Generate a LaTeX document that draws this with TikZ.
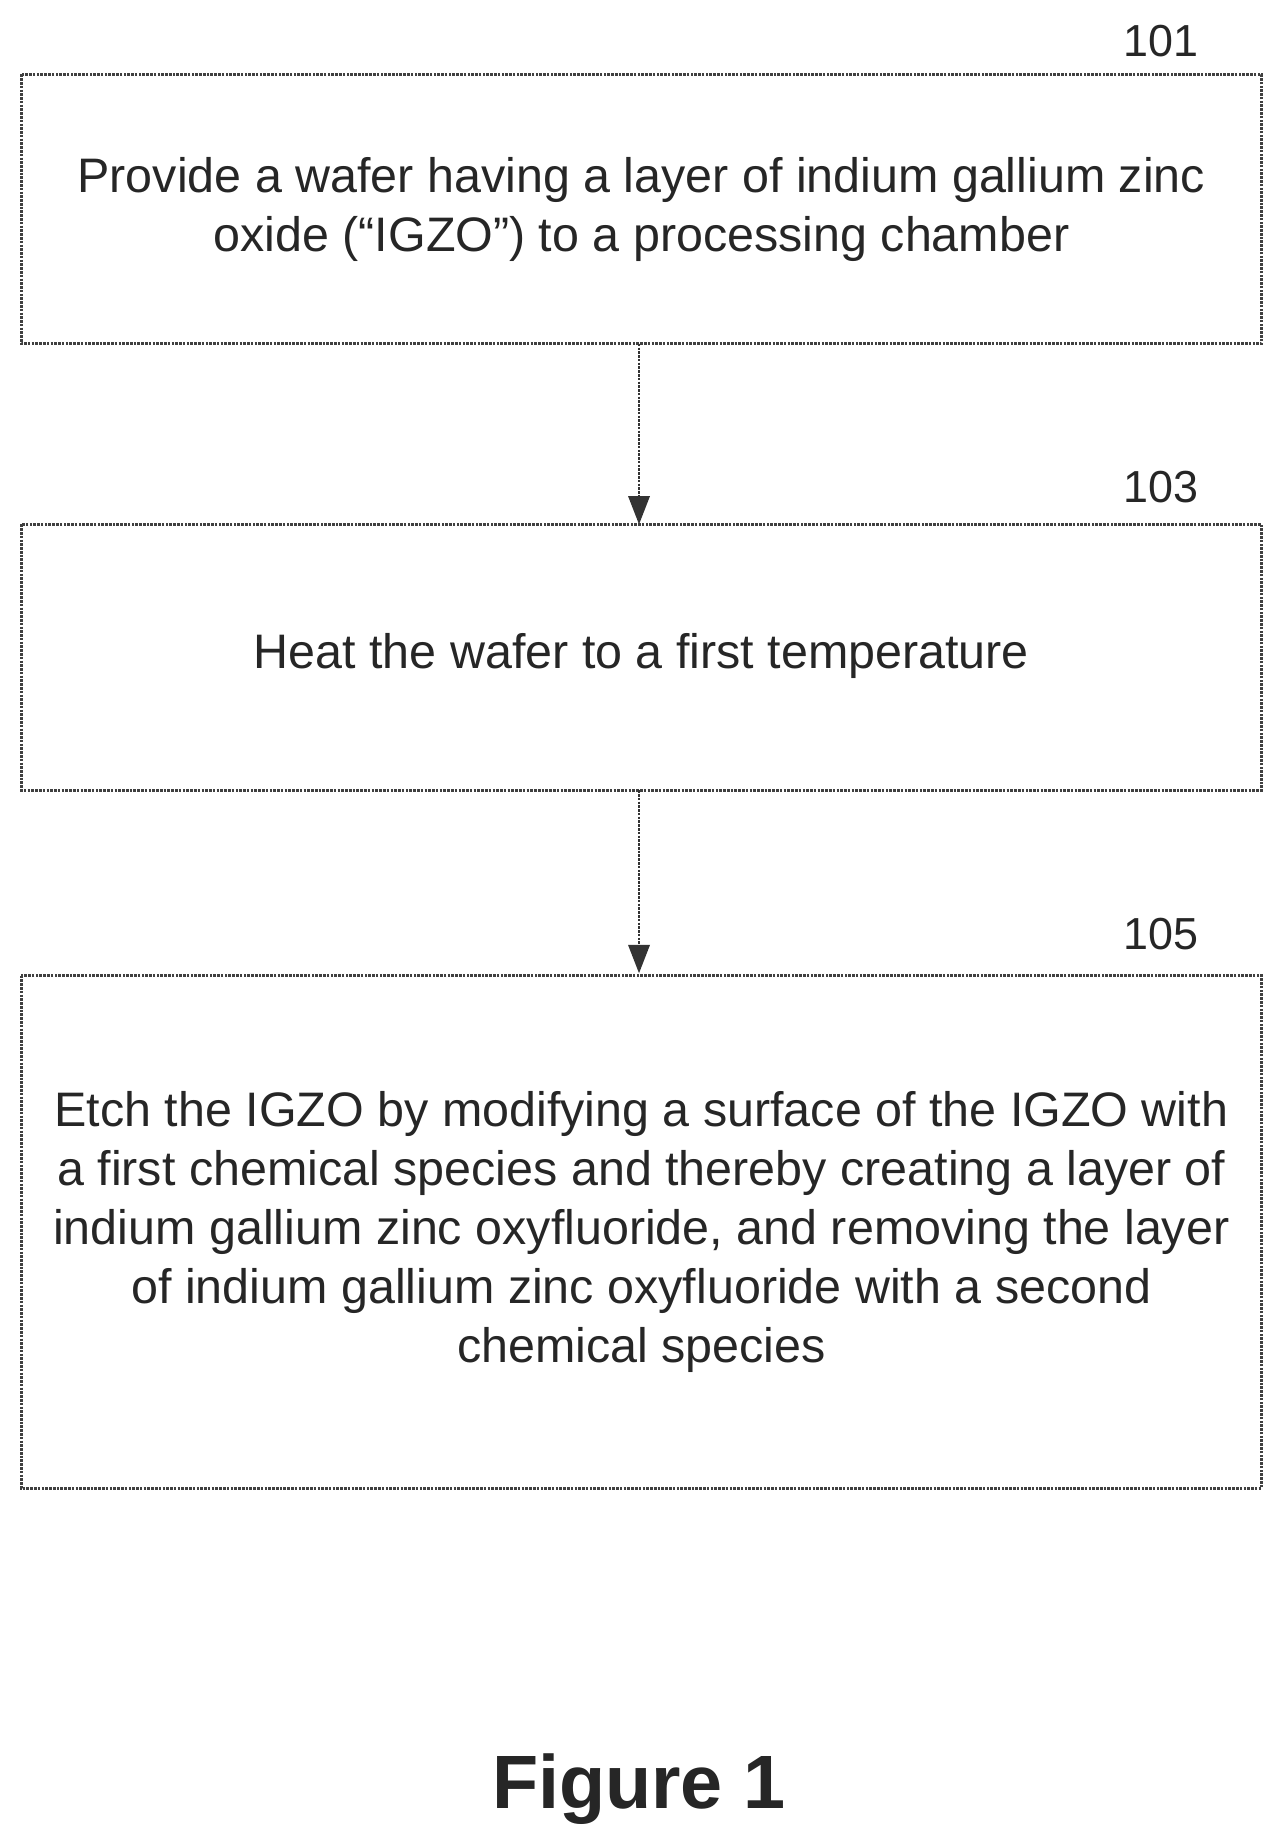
\documentclass[tikz,border=0pt]{standalone}
\usepackage{fontspec}
\setmainfont{Liberation Sans}
\usetikzlibrary{arrows.meta}
\begin{document}
\begin{tikzpicture}[x=1pt,y=-1pt,
  stepbox/.style={draw=black!75,line width=2.2pt,densely dotted},
  txt/.style={align=center,font=\fontsize{41}{50}\selectfont,text=black!85},
  lbl/.style={font=\fontsize{38}{40}\selectfont,text=black!85},
  arr/.style={-{Triangle[length=24pt,width=18pt]},line width=2.2pt,draw=black!80,densely dotted}]
\useasboundingbox (0,0) rectangle (1083,1562);
\draw[stepbox] (18,63) rectangle (1068,291);
\draw[stepbox] (18,444) rectangle (1068,669);
\draw[stepbox] (18,826) rectangle (1068,1260);
\coordinate (b1b) at (541,291);
\coordinate (b2t) at (541,444);
\coordinate (b2b) at (541,669);
\coordinate (b3t) at (541,824);
\node[txt] (t1) at (543,177) {Provide a wafer having a layer of indium gallium zinc\\oxide (“IGZO”) to a processing chamber};
\node[txt] (t2) at (543,555) {Heat the wafer to a first temperature};
\node[txt] (t3) at (543,1043) {Etch the IGZO by modifying a surface of the IGZO with\\a first chemical species and thereby creating a layer of\\indium gallium zinc oxyfluoride, and removing the layer\\of indium gallium zinc oxyfluoride with a second\\chemical species};
\node[lbl] (l1) at (983,35) {101};
\node[lbl] (l2) at (983,412) {103};
\node[lbl] (l3) at (983,791) {105};
\draw[arr] (b1b) -- (b2t);
\draw[arr] (b2b) -- (b3t);
\node[font=\bfseries\fontsize{64}{70}\selectfont,text=black!85] (fig) at (541,1515) {Figure 1};
\end{tikzpicture}
\end{document}
